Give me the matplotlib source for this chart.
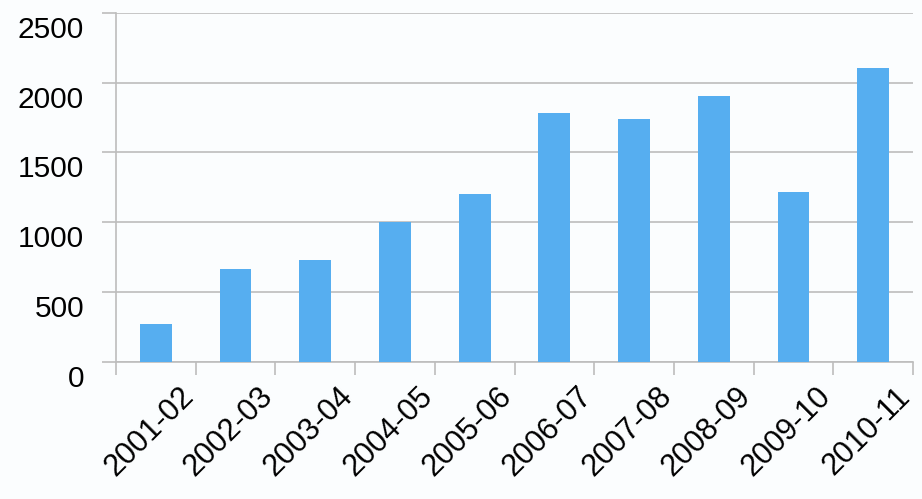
import matplotlib
matplotlib.use("Agg")
import matplotlib.pyplot as plt
import matplotlib.transforms as mtrans
import numpy as np

categories = ["2001-02", "2002-03", "2003-04", "2004-05", "2005-06",
              "2006-07", "2007-08", "2008-09", "2009-10", "2010-11"]
values = [268, 665, 728, 1003, 1199, 1779, 1736, 1905, 1213, 2106]
yticks = [0, 500, 1000, 1500, 2000, 2500]

plt.rcParams['font.family'] = ['Liberation Sans', 'DejaVu Sans']

fig = plt.figure(figsize=(9.22, 4.99), dpi=100)
fig.patch.set_facecolor('#fbfdfe')
ax = fig.add_axes([116/922, 1 - 361.7/499, (913-116)/922, (361.7-12.7)/499])
ax.set_facecolor('#fbfdfe')

x = np.arange(len(categories))
ax.bar(x, values, width=0.4, color='#56aef0', zorder=3)

ax.set_xlim(-0.5, len(categories) - 0.5)
ax.set_ylim(0, 2500)
ax.set_yticks(yticks)
ax.set_yticklabels([str(v) for v in yticks], fontsize=21.5)
ax.yaxis.grid(True, color='#bdbdbd', linewidth=1.2, zorder=0)
ax.tick_params(axis='y', length=10, width=1.2, color='#bdbdbd', pad=13)
yoff = mtrans.ScaledTranslation(0, -14/100, fig.dpi_scale_trans)
for lab in ax.get_yticklabels():
    lab.set_transform(lab.get_transform() + yoff)

ax.set_xticks(x)
ax.set_xticklabels(categories, fontsize=22, rotation=45, ha='right',
                   rotation_mode='anchor', va='center')
ax.tick_params(axis='x', which='major', length=0, pad=22)
ax.set_xticks(np.arange(-0.5, len(categories) + 0.5, 1), minor=True)
ax.tick_params(axis='x', which='minor', length=9, width=1.2, color='#bdbdbd')
offset = mtrans.ScaledTranslation(33/100, 0, fig.dpi_scale_trans)
for lab in ax.get_xticklabels():
    lab.set_transform(lab.get_transform() + offset)

for s in ['top', 'right']:
    ax.spines[s].set_visible(False)
for s in ['left', 'bottom']:
    ax.spines[s].set_color('#bdbdbd')
    ax.spines[s].set_linewidth(1.2)

fig.savefig('out.png', dpi=100, facecolor=fig.get_facecolor())
